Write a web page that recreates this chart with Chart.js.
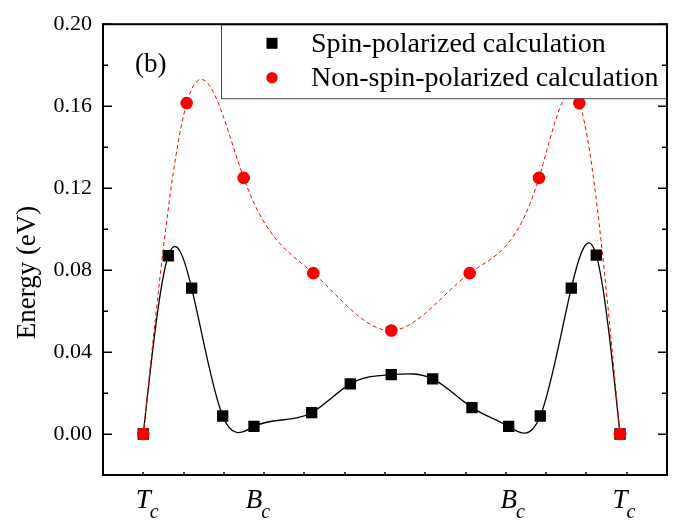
<!DOCTYPE html>
<html><head><meta charset="utf-8">
<script src="https://cdn.jsdelivr.net/npm/chart.js@4.4.0/dist/chart.umd.min.js"></script>
<style>html,body{margin:0;padding:0;background:#fff}canvas{display:block}</style>
</head><body>
<canvas id="c" width="677" height="522"></canvas>
<script>
// ---- data ----
const spinX = [0, 0.621, 1.201, 1.971, 2.748, 4.180, 5.138, 6.156, 7.184, 8.159, 9.070, 9.855, 10.624, 11.245, 11.833];
const spinY = [0, 0.0870, 0.0712, 0.0088, 0.0037, 0.0104, 0.0245, 0.0290, 0.0269, 0.0129, 0.0037, 0.0088, 0.0712, 0.0873, 0];
const nonSpinX = [0, 1.077, 2.492, 4.220, 6.156, 8.102, 9.822, 10.823, 11.833];
const nonSpinY = [0, 0.1615, 0.1250, 0.0785, 0.0505, 0.0785, 0.1250, 0.1615, 0];
const seriesNames = ['Spin-polarized calculation', 'Non-spin-polarized calculation'];
const xLabelMain = ['T', 'B', 'B', 'T'];
const xLabelSub = ['c', 'c', 'c', 'c'];
const xLabelPos = [0, 2.748, 9.070, 11.833];
const yTitle = 'Energy (eV)';
const panelLabel = '(b)';

const SERIF = "'Liberation Serif', 'Times New Roman', serif";

function toPoints(xs, ys) { return xs.map((x, i) => ({x: x, y: ys[i]})); }

// natural cubic spline (like the source plot) expressed as bezier control points of the line element
function applyNaturalSpline(pts) {
  const n = pts.length; if (n < 3) return;
  const x = pts.map(p => p.x), y = pts.map(p => p.y);
  const h = []; for (let i = 0; i < n - 1; i++) h.push(x[i + 1] - x[i]);
  const a = [], b = [], c = [], d = [];
  for (let i = 1; i < n - 1; i++) {
    a.push(h[i - 1]); b.push(2 * (h[i - 1] + h[i])); c.push(h[i]);
    d.push(6 * ((y[i + 1] - y[i]) / h[i] - (y[i] - y[i - 1]) / h[i - 1]));
  }
  const m = a.length;
  for (let i = 1; i < m; i++) { const w = a[i] / b[i - 1]; b[i] -= w * c[i - 1]; d[i] -= w * d[i - 1]; }
  const Mi = new Array(m);
  Mi[m - 1] = d[m - 1] / b[m - 1];
  for (let i = m - 2; i >= 0; i--) Mi[i] = (d[i] - c[i] * Mi[i + 1]) / b[i];
  const M = [0].concat(Mi, [0]);
  for (let i = 0; i < n - 1; i++) {
    const s = (y[i + 1] - y[i]) / h[i];
    const m0 = s - h[i] * (2 * M[i] + M[i + 1]) / 6;
    const m1 = s + h[i] * (M[i] + 2 * M[i + 1]) / 6;
    pts[i].cp2x = x[i] + h[i] / 3; pts[i].cp2y = y[i] + m0 * h[i] / 3;
    pts[i + 1].cp1x = x[i + 1] - h[i] / 3; pts[i + 1].cp1y = y[i + 1] - m1 * h[i] / 3;
  }
  pts[0].cp1x = pts[0].x; pts[0].cp1y = pts[0].y;
  pts[n - 1].cp2x = pts[n - 1].x; pts[n - 1].cp2y = pts[n - 1].y;
}

const splinePlugin = {
  id: 'spline',
  beforeDatasetDraw(chart, args) {
    const meta = args.meta;
    if (!meta.dataset) return;
    meta.dataset.updateControlPoints(chart.chartArea, 'x');
    applyNaturalSpline(meta.data);
  }
};

const decorPlugin = {
  id: 'decor',
  afterDraw(chart) {
    const ctx = chart.ctx, ca = chart.chartArea;
    const xs = chart.scales.x, ys = chart.scales.y;
    ctx.save();
    // legend box (white, over the curves)
    const lx = 221, ly = ca.top, lw = ca.right - 221, lh = 74;
    ctx.fillStyle = '#fff';
    ctx.fillRect(lx, ly, lw, lh);
    ctx.strokeStyle = '#444'; ctx.lineWidth = 1;
    ctx.strokeRect(lx + 0.5, ly + 0.5, lw - 1, lh);
    const dsSpin = chart.data.datasets[1], dsNon = chart.data.datasets[0];
    ctx.fillStyle = dsSpin.pointBackgroundColor;
    ctx.fillRect(272 - 5.5, 43.3 - 5.5, 11, 11);
    ctx.fillStyle = dsNon.pointBackgroundColor;
    ctx.beginPath(); ctx.arc(272, 77.7, 5.7, 0, Math.PI * 2); ctx.fill();
    ctx.fillStyle = '#000';
    ctx.font = '28px ' + SERIF;
    ctx.textAlign = 'left'; ctx.textBaseline = 'alphabetic';
    ctx.fillText(seriesNames[0], 311, 51.5);
    ctx.fillText(seriesNames[1], 311, 86);

    // frame
    ctx.strokeStyle = '#000'; ctx.lineWidth = 2;
    ctx.strokeRect(ca.left, ca.top, ca.right - ca.left, ca.bottom - ca.top);
    // y ticks (inside, both sides)
    ctx.lineWidth = 1.5;
    ys.ticks.forEach(t => {
      const py = Math.round(ys.getPixelForValue(t.value)) + 0.25;
      const major = t.label !== '';
      const len = major ? 9 : 5;
      ctx.beginPath();
      ctx.moveTo(ca.left, py); ctx.lineTo(ca.left + len, py);
      ctx.moveTo(ca.right, py); ctx.lineTo(ca.right - len, py);
      ctx.stroke();
    });
    // x ticks (inside, bottom)
    xs.ticks.forEach(t => {
      const px = Math.round(xs.getPixelForValue(t.value));
      ctx.beginPath();
      ctx.moveTo(px, ca.bottom); ctx.lineTo(px, ca.bottom - 3);
      ctx.stroke();
    });
    // panel label
    ctx.font = '27px ' + SERIF;
    ctx.fillText(panelLabel, 135, 72);
    // y title
    ctx.save();
    ctx.translate(35, 272.5); ctx.rotate(-Math.PI / 2);
    ctx.font = '27px ' + SERIF; ctx.textAlign = 'center'; ctx.textBaseline = 'alphabetic';
    ctx.fillText(yTitle, 0, 0);
    ctx.restore();
    // x category labels (italic with subscript)
    ctx.textAlign = 'left';
    xLabelPos.forEach((v, i) => {
      const px = xs.getPixelForValue(v);
      ctx.font = 'italic 27px ' + SERIF;
      const w = ctx.measureText(xLabelMain[i]).width;
      const left = px - w / 2;
      ctx.fillText(xLabelMain[i], left, 507.7);
      ctx.font = 'italic 20px ' + SERIF;
      ctx.fillText(xLabelSub[i], left + w - 1, 518);
    });
    ctx.restore();
  }
};

new Chart(document.getElementById('c'), {
  type: 'line',
  data: {
    datasets: [
      {
        label: seriesNames[1],
        data: toPoints(nonSpinX, nonSpinY),
        borderColor: '#ff0000', borderWidth: 1, borderDash: [4, 3],
        pointStyle: 'circle', pointRadius: 6.3, pointBorderWidth: 0,
        pointBackgroundColor: '#ff0000',
        tension: 0.4, order: 0, fill: false
      },
      {
        label: seriesNames[0],
        data: toPoints(spinX, spinY),
        borderColor: '#000000', borderWidth: 1.3,
        pointStyle: 'rect', pointRadius: 8, pointBorderWidth: 0,
        pointBackgroundColor: '#000000',
        tension: 0.4, order: 1, fill: false
      }
    ]
  },
  options: {
    responsive: false,
    animation: false,
    devicePixelRatio: 1,
    layout: {padding: {top: 19, right: 10, left: 0, bottom: 0}},
    plugins: {legend: {display: false}, tooltip: {enabled: false}},
    scales: {
      x: {
        type: 'linear', min: -1, max: 13,
        grid: {display: false, drawTicks: false}, border: {display: false},
        ticks: {stepSize: 1, callback: () => '', padding: 0, font: {size: 1}},
        afterFit: s => { s.height = 47; }
      },
      y: {
        type: 'linear', min: -0.02, max: 0.2,
        grid: {display: false, drawTicks: false}, border: {display: false},
        ticks: {
          stepSize: 0.02, padding: 11, color: '#000', autoSkip: false,
          font: {family: SERIF, size: 22},
          callback: v => { const k = Math.round(v * 100); return (k >= 0 && k % 4 === 0) ? (k / 100).toFixed(2) : ''; }
        },
        afterFit: s => { s.width = 103; }
      }
    }
  },
  plugins: [splinePlugin, decorPlugin]
});
</script>
</body></html>
